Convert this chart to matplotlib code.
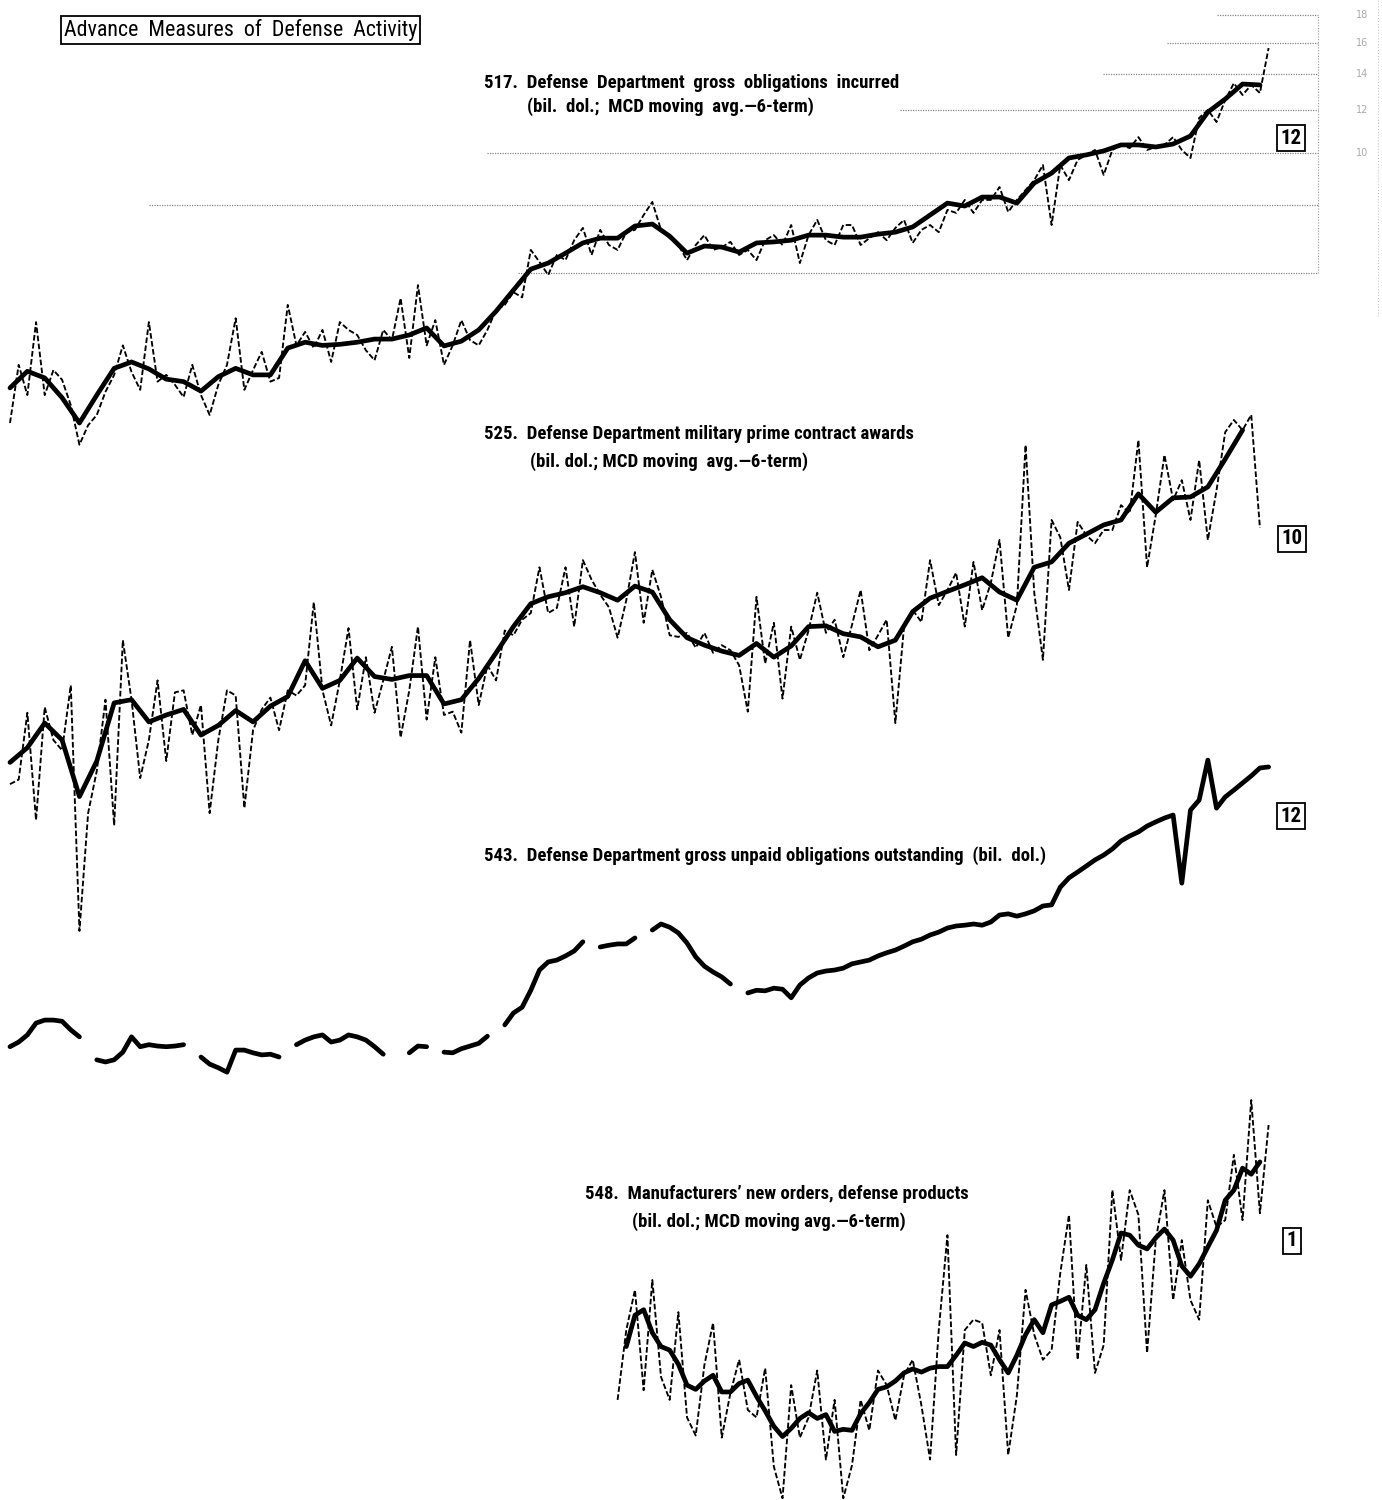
import numpy as np
import matplotlib
matplotlib.use("Agg")
import matplotlib.pyplot as plt
from matplotlib import font_manager

nan = np.nan

# ---- data (bil. dol.), monthly index, 2- or 4-month sampling ----
# 517 Defense Dept gross obligations incurred: raw (every 2 months) and MCD avg (every 4 months)
obl_517_raw = [
    3.17, 4.06, 3.57, 4.87, 3.57, 3.97, 3.81, 3.42, 2.89, 3.14,
    3.28, 3.62, 3.89, 4.41, 3.94, 3.65, 4.87, 3.78, 3.89, 3.73,
    3.54, 4.06, 3.57, 3.28, 3.73, 4.06, 4.95, 3.65, 3.97, 4.29,
    3.78, 3.84, 5.24, 4.41, 4.67, 4.36, 4.71, 4.11, 4.87, 4.71,
    4.61, 4.32, 4.14, 4.71, 4.51, 5.39, 4.18, 5.70, 4.41, 4.91,
    4.06, 4.41, 4.91, 4.51, 4.41, 4.71, 5.13, 5.24, 5.53, 5.41,
    6.62, 6.29, 5.95, 6.48, 6.34, 6.90, 7.27, 6.48, 7.21, 6.76,
    6.62, 7.14, 7.21, 7.68, 8.12, 7.21, 6.96, 6.76, 6.34, 6.76,
    7.05, 6.62, 6.70, 6.85, 6.48, 6.62, 6.34, 6.90, 7.05, 6.76,
    7.36, 6.26, 7.05, 7.52, 6.90, 6.76, 7.36, 7.36, 6.76, 6.96,
    7.14, 6.90, 7.27, 7.52, 6.82, 7.21, 7.36, 7.14, 7.85, 7.75,
    8.19, 7.75, 8.19, 8.19, 8.65, 7.78, 8.19, 8.54, 8.91, 9.50,
    7.36, 9.50, 8.91, 9.71, 9.92, 10.13, 9.11, 10.13, 10.35, 10.21,
    10.70, 10.13, 10.26, 10.35, 10.70, 10.13, 9.79, 11.61, 12.01, 11.41,
    12.53, 13.46, 12.80, 13.36, 12.91, 15.63,
]
obl_517_avg = [
    3.68, 3.95, 3.84, 3.53, 3.17, 3.57, 4.00, 4.11, 3.99, 3.82,
    3.78, 3.63, 3.86, 4.00, 3.89, 3.89, 4.36, 4.47, 4.41, 4.43,
    4.47, 4.53, 4.53, 4.61, 4.75, 4.40, 4.49, 4.71, 5.10, 5.58,
    6.10, 6.26, 6.53, 6.82, 6.96, 6.96, 7.33, 7.39, 7.02, 6.53,
    6.73, 6.70, 6.56, 6.82, 6.85, 6.90, 7.05, 7.05, 6.99, 6.99,
    7.08, 7.14, 7.30, 7.68, 8.08, 7.98, 8.29, 8.29, 8.08, 8.80,
    9.18, 9.79, 9.92, 10.09, 10.35, 10.35, 10.26, 10.39, 10.75, 11.90,
    12.58, 13.41, 13.36,
]

# 525 military prime contract awards
awards_525_raw = [
    1.55, 1.58, 2.10, 1.33, 2.15, 1.87, 1.79, 2.36, 0.83, 1.37,
    1.64, 2.22, 1.30, 2.86, 2.22, 1.59, 1.87, 2.41, 1.71, 2.29,
    2.31, 1.91, 2.17, 1.37, 1.87, 2.31, 2.26, 1.40, 1.95, 2.13,
    2.24, 1.95, 2.31, 2.26, 2.36, 3.36, 2.31, 1.99, 2.41, 3.01,
    2.13, 2.66, 2.10, 2.41, 2.78, 1.89, 2.31, 3.03, 2.04, 2.66,
    2.08, 2.11, 1.93, 2.86, 2.17, 2.57, 2.41, 2.98, 2.92, 3.12,
    3.21, 3.90, 3.21, 3.28, 3.90, 3.03, 4.02, 3.70, 3.47, 3.29,
    2.89, 3.39, 4.16, 3.08, 3.86, 3.44, 2.92, 2.90, 2.95, 2.77,
    2.95, 2.71, 2.80, 2.74, 2.57, 2.11, 3.44, 2.59, 3.08, 2.23,
    3.03, 2.63, 2.98, 3.50, 2.95, 3.12, 2.66, 3.05, 3.54, 2.74,
    2.92, 3.12, 2.01, 3.03, 3.25, 3.09, 4.02, 3.32, 3.54, 3.81,
    3.03, 3.99, 3.25, 3.65, 4.38, 2.89, 3.32, 6.56, 3.50, 2.63,
    4.77, 4.43, 3.54, 4.73, 4.47, 4.32, 4.57, 4.57, 5.08, 4.91,
    6.70, 3.90, 4.87, 6.29, 5.19, 5.65, 4.77, 6.15, 4.38, 5.41,
    6.93, 7.30, 6.99, 7.46, 4.61,
]
awards_525_avg = [
    1.70, 1.81, 2.01, 1.87, 1.47, 1.71, 2.19, 2.22, 2.02, 2.08,
    2.13, 1.91, 1.99, 2.12, 2.02, 2.16, 2.25, 2.62, 2.33, 2.41,
    2.65, 2.45, 2.42, 2.46, 2.46, 2.18, 2.22, 2.43, 2.71, 3.03,
    3.34, 3.44, 3.50, 3.59, 3.50, 3.39, 3.60, 3.51, 3.12, 2.89,
    2.80, 2.73, 2.68, 2.82, 2.66, 2.79, 3.03, 3.04, 2.94, 2.90,
    2.78, 2.86, 3.23, 3.42, 3.52, 3.62, 3.73, 3.51, 3.39, 3.90,
    3.99, 4.32, 4.49, 4.67, 4.77, 5.33, 4.93, 5.24, 5.26, 5.49,
    6.18, 6.99,
]

# 543 gross unpaid obligations outstanding (gaps = missing months)
unpaid_543 = [
    35.0, 35.7, 36.8, 38.7, 39.2, 39.2, 39.0, 37.6, 36.5, nan,
    33.1, 32.8, 33.1, 34.2, 36.5, 35.0, 35.3, 35.1, 35.0, 35.1,
    35.3, nan, 33.5, 32.5, 32.0, 31.4, 34.5, 34.5, 34.1, 33.8,
    33.9, 33.5, nan, 35.3, 36.0, 36.5, 36.8, 35.7, 36.0, 36.8,
    36.5, 36.0, 35.0, 33.9, nan, nan, 34.1, 35.1, 35.0, nan,
    34.2, 34.1, 34.7, 35.1, 35.5, 36.6, nan, 38.4, 40.4, 41.4,
    44.5, 48.5, 50.2, 50.6, 51.5, 52.6, 54.7, nan, 53.5, 53.9,
    54.2, 54.2, 55.6, nan, 57.5, 59.0, 58.2, 56.8, 54.4, 51.3,
    49.3, 48.1, 47.1, 45.7, nan, 44.0, 44.5, 44.4, 44.9, 44.7,
    43.1, 45.5, 46.9, 47.9, 48.3, 48.5, 48.9, 49.8, 50.2, 50.6,
    51.5, 52.2, 52.8, 53.7, 54.7, 55.3, 56.3, 57.0, 58.0, 58.5,
    58.7, 59.0, 58.7, 59.5, 61.3, 61.6, 61.0, 61.6, 62.4, 63.7,
    64.0, 69.0, 71.8, 73.6, 75.5, 77.5, 79.1, 81.2, 84.0, 85.8,
    87.3, 89.5, 91.1, 92.6, 93.8, 70.2, 95.8, 100.0, 118.5, 96.6,
    101.3, 104.3, 107.5, 110.8, 114.6, 115.1,
]

# 548 manufacturers' new orders, defense products (series begins later)
start_548_raw = 140
orders_548_raw = [
    2.63, 3.54, 4.20, 2.74, 4.38, 2.90, 2.63, 3.82, 2.44, 2.26,
    3.05, 3.65, 2.24, 2.71, 3.12, 2.52, 2.44, 3.01, 1.98, 1.73,
    2.80, 2.24, 2.44, 2.98, 2.04, 2.63, 1.73, 1.99, 2.63, 2.31,
    2.98, 2.80, 2.41, 2.92, 3.12, 2.57, 2.04, 3.54, 5.30, 2.08,
    3.54, 3.70, 3.65, 2.92, 3.54, 2.08, 2.68, 4.20, 3.47, 3.12,
    3.25, 4.51, 5.78, 3.12, 4.67, 2.95, 3.32, 6.42, 4.77, 6.42,
    5.78, 3.21, 5.19, 6.42, 4.02, 5.19, 4.02, 3.70, 6.15, 5.49,
    5.65, 7.46, 5.65, 9.42, 5.82, 8.47,
]
start_548_avg = 142
orders_548_avg = [
    3.30, 3.77, 3.86, 3.50, 3.30, 3.25, 3.06, 2.80, 2.75, 2.85,
    2.92, 2.72, 2.72, 2.82, 2.86, 2.67, 2.51, 2.35, 2.25, 2.33,
    2.43, 2.49, 2.43, 2.47, 2.30, 2.32, 2.31, 2.48, 2.60, 2.75,
    2.78, 2.85, 2.95, 3.00, 2.96, 3.01, 3.03, 3.03, 3.18, 3.35,
    3.30, 3.36, 3.32, 3.12, 2.95, 3.18, 3.47, 3.70, 3.50, 3.94,
    4.00, 4.07, 3.77, 3.70, 3.86, 4.32, 4.77, 5.35, 5.30, 5.08,
    5.00, 5.24, 5.44, 5.19, 4.65, 4.45, 4.69, 5.04, 5.41, 6.15,
    6.42, 7.05, 6.87, 7.24,
]

# scale rulings at the top right of series 517
grid_517 = [18, 16, 14, 12, 10, 8, 6]
grid_517_start = [278, 266.6, 251.8, 205, 110, 32, 117]

# ---- layout ----
W, H = 1382, 1500
fig = plt.figure(figsize=(W / 100, H / 100), dpi=100)

installed = {f.name for f in font_manager.fontManager.ttflist}
narrow = next((n for n in ["Liberation Sans Narrow", "DejaVu Sans Condensed",
                           "Roboto Condensed"] if n in installed), "DejaVu Sans")

PX_MONTH = 4.34         # horizontal pixels per month
X0 = 10                 # first month sits here
SPAN = H / 235.0        # natural-log units over the full height (ratio scale)


def panel(anchor_val, anchor_px):
    ax = fig.add_axes([0, 0, 1, 1])
    ax.set_xlim(-X0 / PX_MONTH, (W - X0) / PX_MONTH)
    ax.set_yscale("log")
    t = anchor_px / H
    ax.set_ylim(anchor_val * np.exp(-(1 - t) * SPAN), anchor_val * np.exp(t * SPAN))
    ax.axis("off")
    ax.patch.set_alpha(0)
    return ax


raw_kw = dict(color="black", lw=1.35, ls=(0, (3.0, 1.3)))
avg_kw = dict(color="black", lw=3.4, solid_joinstyle="round", solid_capstyle="round")

# 517
ax = panel(10, 153)
ax.hlines(grid_517, grid_517_start, 301.4, color="#888888", lw=0.9, ls=(0, (1, 1)))
ax.vlines(301.4, 6, 18, color="#999999", lw=0.8, ls=(0, (1, 1.5)))
ax.vlines(315.3, 5, 21, color="#bbbbbb", lw=0.7, ls=(0, (1, 2)))
for g in grid_517[:5]:
    ax.text(311.5, g, str(g), color="#aaaaaa", fontsize=7, ha="center", va="center")
ax.plot(np.arange(len(obl_517_raw)) * 2, obl_517_raw, **raw_kw)
ax.plot(np.arange(len(obl_517_avg)) * 4, obl_517_avg, **avg_kw)

# 525
ax = panel(10, 346)
ax.plot(np.arange(len(awards_525_raw)) * 2, awards_525_raw, **raw_kw)
ax.plot(np.arange(len(awards_525_avg)) * 4, awards_525_avg, **avg_kw)

# 543
ax = panel(100, 800)
ax.plot(np.arange(len(unpaid_543)) * 2, unpaid_543, **avg_kw)

# 548
ax = panel(10, 1086)
ax.plot(start_548_raw + np.arange(len(orders_548_raw)) * 2, orders_548_raw, **raw_kw)
ax.plot(start_548_avg + np.arange(len(orders_548_avg)) * 2, orders_548_avg, **avg_kw)


def ftext(x, y, s, **kw):
    fig.text(x / W, 1 - y / H, s, family=[narrow, "DejaVu Sans"], **kw)


ftext(64, 30, "Advance  Measures  of  Defense  Activity", fontsize=15.8, va="center",
      bbox=dict(boxstyle="square,pad=0.12", fc="white", ec="black", lw=1.3))

bold = dict(fontsize=13.5, fontweight="bold", va="center")
ftext(484, 83, "517.  Defense  Department  gross  obligations  incurred", **bold)
ftext(527, 107, "(bil.  dol.;  MCD moving  avg.\u20146-term)", **bold)
ftext(484, 434, "525.  Defense Department military prime contract awards", **bold)
ftext(530, 462, "(bil. dol.; MCD moving  avg.\u20146-term)", **bold)
ftext(484, 856, "543.  Defense Department gross unpaid obligations outstanding  (bil.  dol.)", **bold)
ftext(585, 1194, "548.  Manufacturers\u2019 new orders, defense products", **bold)
ftext(632, 1222, "(bil. dol.; MCD moving avg.\u20146-term)", **bold)

box = dict(boxstyle="square,pad=0.18", fc="white", ec="black", lw=1.3)
for x, y, s in [(1291, 138, "12"), (1292, 539, "10"), (1291, 816, "12"), (1292, 1241, "1")]:
    ftext(x, y, s, fontsize=15, fontweight="bold", ha="center", va="center", bbox=box)

fig.savefig("out.png", dpi=100, facecolor="white")
